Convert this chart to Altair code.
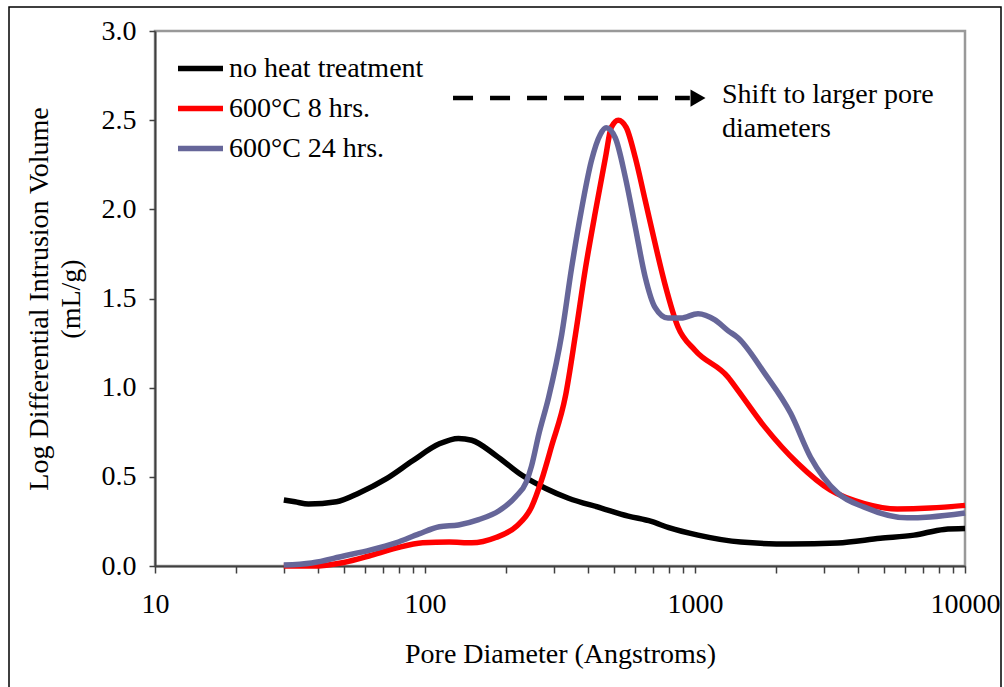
import altair as alt
import pandas as pd

# Pore size distribution curves (pore diameter in Angstroms, log differential intrusion in mL/g)
series_names = ["no heat treatment", "600°C 8 hrs.", "600°C 24 hrs."]
series_colors = ["#000000", "#FF0000", "#666699"]

no_heat_x = [30, 33, 37, 47, 57, 72, 90, 113, 133, 149, 183, 228, 279, 340, 450,
             566, 689, 800, 1026, 1479, 2261, 3373, 4857, 6483, 8358, 10000]
no_heat_y = [0.37, 0.36, 0.347, 0.36, 0.41, 0.49, 0.59, 0.685, 0.715, 0.705, 0.62,
             0.51, 0.436, 0.38, 0.325, 0.28, 0.25, 0.215, 0.173, 0.134, 0.123,
             0.129, 0.155, 0.173, 0.205, 0.21]

h8_x = [30, 38, 50, 62, 78, 98, 123, 149, 183, 217, 248, 270, 294, 331, 361,
        393, 428, 466, 490, 520, 556, 601, 654, 711, 774, 865, 1000, 1324, 1442,
        1812, 2399, 3177, 4239, 5610, 7430, 10000]
h8_y = [0.0, 0.0, 0.02, 0.056, 0.10, 0.13, 0.134, 0.13, 0.16, 0.22, 0.33, 0.48,
        0.67, 0.95, 1.30, 1.67, 1.99, 2.29, 2.46, 2.50, 2.46, 2.29, 2.05,
        1.81, 1.58, 1.34, 1.21, 1.06, 0.985, 0.78, 0.576, 0.425, 0.35, 0.32, 0.325,
        0.34]

h24_x = [30, 38, 50, 63, 78, 95, 113, 133, 158, 188, 217, 237, 248, 264, 287, 321,
         349, 379, 413, 446, 469, 507, 552, 601, 654, 711, 794, 887, 1026, 1185,
         1324, 1442, 1812, 2261, 2679, 3373, 4239, 6110, 7430, 10000]
h24_y = [0.005, 0.017, 0.056, 0.09, 0.13, 0.18, 0.22, 0.23, 0.26, 0.31, 0.39, 0.47,
         0.56, 0.74, 0.946, 1.30, 1.67, 1.99, 2.27, 2.42, 2.457, 2.40, 2.18, 1.90,
         1.62, 1.45, 1.39, 1.39, 1.415, 1.38, 1.32, 1.28, 1.08, 0.856, 0.61, 0.41,
         0.33, 0.27, 0.275, 0.297]

x_ticks = [10, 20, 30, 40, 50, 60, 70, 80, 90,
           100, 200, 300, 400, 500, 600, 700, 800, 900,
           1000, 2000, 3000, 4000, 5000, 6000, 7000, 8000, 9000, 10000]
y_ticks = [0.0, 0.5, 1.0, 1.5, 2.0, 2.5, 3.0]

# Annotation: dashed arrow and its caption
arrow_x = [127, 957]
arrow_y = [2.624, 2.624]
arrow_head_x = [1026]
note_x = [1259]
note_y = [2.64]
note_text = [["Shift to larger pore", "diameters"]]

FONT = "Liberation Serif"
FS = 28

rows = []
for name, xs, ys in zip(series_names, [no_heat_x, h8_x, h24_x], [no_heat_y, h8_y, h24_y]):
    for i, (xv, yv) in enumerate(zip(xs, ys)):
        rows.append({"series": name, "order": i, "diameter": xv, "volume": yv})
curves = pd.DataFrame(rows)

x_scale = alt.Scale(type="log", domain=[10, 10000], nice=False)
y_scale = alt.Scale(domain=[0, 3], nice=False, zero=True)

lines = alt.Chart(curves).mark_line(strokeWidth=5.5, interpolate="monotone").encode(
    x=alt.X("diameter:Q", scale=x_scale,
            axis=alt.Axis(title="Pore Diameter (Angstroms)", values=x_ticks,
                          labelExpr="(datum.value == 10 || datum.value == 100 || datum.value == 1000 || datum.value == 10000) ? format(datum.value, 'd') : ''",
                          labelFlush=False, labelOverlap=False, tickSize=7,
                          labelPadding=17, titlePadding=22)),
    y=alt.Y("volume:Q", scale=y_scale,
            axis=alt.Axis(title=["Log Differential Intrusion Volume", "(mL/g)"],
                          values=y_ticks, format=".1f", labelFlush=False,
                          tickSize=6, labelPadding=13, titlePadding=16,
                          titleLineHeight=32)),
    color=alt.Color("series:N",
                    scale=alt.Scale(domain=series_names, range=series_colors),
                    legend=alt.Legend(title=None, orient="none", legendX=20, legendY=12,
                                      symbolType="stroke", symbolSize=2025,
                                      symbolStrokeWidth=5.5, labelFont=FONT,
                                      labelFontSize=FS, labelColor="#000",
                                      labelLimit=400, labelOffset=3, rowPadding=0)),
    order="order:Q",
)

arrow_df = pd.DataFrame({"x": arrow_x, "y": arrow_y})
arrow_line = alt.Chart(arrow_df).mark_line(
    color="#000", strokeWidth=4.5, strokeDash=[20, 17]
).encode(x=alt.X("x:Q", scale=x_scale), y=alt.Y("y:Q", scale=y_scale))

head_df = pd.DataFrame({"x": arrow_head_x, "y": [arrow_y[0]]})
arrow_head = alt.Chart(head_df).mark_point(
    shape="triangle-right", filled=True, color="#000", size=300, opacity=1
).encode(x=alt.X("x:Q", scale=x_scale), y=alt.Y("y:Q", scale=y_scale))

note_df = pd.DataFrame({"x": note_x, "y": note_y, "t": note_text})
note = alt.Chart(note_df).mark_text(
    align="left", baseline="middle", font=FONT, fontSize=FS, lineHeight=34, color="#000"
).encode(x=alt.X("x:Q", scale=x_scale), y=alt.Y("y:Q", scale=y_scale), text="t")

frame = alt.Chart(pd.DataFrame({"k": [0]})).mark_rect(
    fill=None, stroke="#000", strokeWidth=1.5
).encode(x=alt.value(-146), x2=alt.value(846), y=alt.value(-24), y2=alt.value(720))

chart = alt.layer(frame, lines, arrow_line, arrow_head, note).properties(
    width=810, height=535,
    background="#ffffff",
    autosize=alt.AutoSizeParams(type="none"),
    padding={"left": 155, "top": 31, "right": 39, "bottom": 121},
).configure_view(
    stroke="#999999", strokeWidth=2.5
).configure_axis(
    grid=False, domainColor="#404040", domainWidth=2, tickColor="#404040", tickWidth=1.5,
    labelFont=FONT, labelFontSize=FS, labelColor="#000", labelFontWeight="normal",
    titleFont=FONT, titleFontSize=FS, titleColor="#000", titleFontWeight="normal",
)

chart.save("out.html", embed_options={"renderer": "svg", "actions": False})
